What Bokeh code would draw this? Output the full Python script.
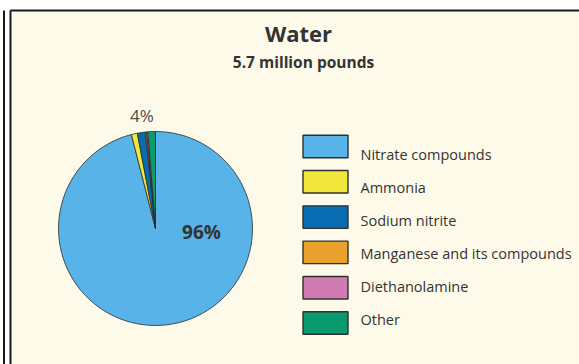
import math

from bokeh.core.properties import value
from bokeh.embed import file_html
from bokeh.models import ColumnDataSource, Range1d
from bokeh.plotting import figure
from bokeh.resources import INLINE

# Chart data
categories = ["Nitrate compounds", "Ammonia", "Sodium nitrite",
              "Manganese and its compounds", "Diethanolamine", "Other"]
shares = [96.0, 1.0, 1.35, 0.2, 0.2, 1.25]
colors = ["#58B3E8", "#F2E83C", "#0A6CB0", "#E9A02C", "#D07CB3", "#0B9A70"]
title_text = "Water"
subtitle_text = "5.7 million pounds"

# Page geometry (pixels, measured from the top-left corner)
W, H = 579, 364
CX, CY, R = 155, 228, 97
FONT = "Open Sans"
CREAM = "#FEFAEA"
INK = "#333333"


def fy(py):
    """Convert a top-down pixel row into the figure's bottom-up y coordinate."""
    return H - py


p = figure(width=W, height=H, x_range=Range1d(0, W), y_range=Range1d(0, H),
           output_backend="svg", toolbar_location=None, min_border=0)
p.axis.visible = False
p.grid.visible = False
p.outline_line_color = None
p.background_fill_color = "white"
p.border_fill_color = "white"

# Cream panel and its frame lines
p.quad(left=[10.5], right=[W + 1], bottom=[-1], top=[fy(10.5)],
       fill_color=CREAM, line_color=None)
p.segment(x0=[10], y0=[fy(10)], x1=[W + 1], y1=[fy(10)], line_color="#1a1a1a", line_width=2)
p.segment(x0=[10], y0=[fy(10)], x1=[10], y1=[-1], line_color="#1a1a1a", line_width=2)
p.segment(x0=[3.5], y0=[fy(10)], x1=[3.5], y1=[-1], line_color="#1a1a1a", line_width=2)

# Pie: starts at 12 o'clock and runs clockwise
total = sum(shares)
starts, ends = [], []
cum = 0.0
for s in shares:
    starts.append(math.pi / 2 - 2 * math.pi * cum / total)
    cum += s
    ends.append(math.pi / 2 - 2 * math.pi * cum / total)
pie = ColumnDataSource(dict(start=starts, end=ends, color=colors, cat=categories))
p.wedge(x=CX, y=fy(CY), radius=R, start_angle="start", end_angle="end",
        direction="clock", fill_color="color", line_color="#2b2b2b",
        line_width=0.8, source=pie)

# Percent labels
main_label = f"{shares[0]:.0f}%"
rest_label = f"{sum(shares[1:]):.0f}%"
p.text(x=[201], y=[fy(231.5)], text=[main_label], text_align="center",
       text_baseline="middle", text_font=value(FONT), text_font_style="bold",
       text_font_size="19px", text_color=INK)
p.text(x=[141.5], y=[fy(114.5)], text=[rest_label], text_align="center",
       text_baseline="middle", text_font=value(FONT),
       text_font_size="17px", text_color="#4d4d4d")

# Titles
p.text(x=[298], y=[fy(32.5)], text=[title_text], text_align="center",
       text_baseline="middle", text_font=value(FONT), text_font_style="bold",
       text_font_size="22px", text_color=INK)
p.text(x=[303], y=[fy(61.5)], text=[subtitle_text], text_align="center",
       text_baseline="middle", text_font=value(FONT), text_font_style="bold",
       text_font_size="15.5px", text_color=INK)

# Legend swatches and labels
n = len(categories)
box_y = [fy(146 + i * 35.3) for i in range(n)]
lab_y = [fy(153.7 + i * 33.1) for i in range(n)]
p.rect(x=[325] * n, y=box_y, width=45, height=22.5, fill_color=colors,
       line_color="#2f2f2f", line_width=1.4)
p.text(x=[360] * n, y=lab_y, text=categories, text_align="left",
       text_baseline="middle", text_font=value(FONT),
       text_font_size="14.5px", text_color=INK)

open("out.html", "w").write(file_html(p, INLINE))
